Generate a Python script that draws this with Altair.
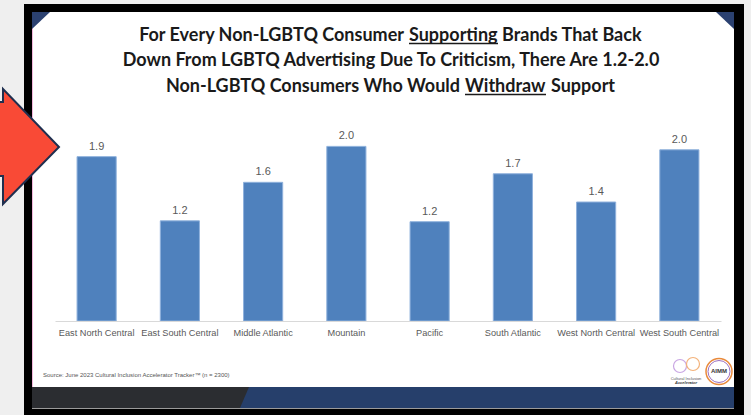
import altair as alt
import pandas as pd

# ---------------- data ----------------
regions = ["East North Central", "East South Central", "Middle Atlantic", "Mountain",
           "Pacific", "South Atlantic", "West North Central", "West South Central"]
values = [1.92, 1.17, 1.62, 2.04, 1.16, 1.72, 1.39, 2.00]

title_line1 = ["For Every Non-LGBTQ Consumer", "Supporting", "Brands That Back"]
title_line2 = "Down From LGBTQ Advertising Due To Criticism, There Are 1.2-2.0"
title_line3 = ["Non-LGBTQ Consumers Who Would", "Withdraw", "Support"]
source_text = "Source: June 2023 Cultural Inclusion Accelerator Tracker\u2122 (n = 2300)"

# ---------------- layout helpers ----------------
PAD_L, PAD_T, PAD_R, PAD_B = 55, 107, 30, 94
W, H = 666, 214


def X(px):
    return px - PAD_L


def Y(py):
    return py - PAD_T


one = alt.Data(values=[{"a": 1}])

TITLE_FONT = "Lato"
LABEL_FONT = "Liberation Sans"
VAL_FONT = "Liberation Sans"


def rect(x1, y1, x2, y2, color):
    return alt.Chart(one).mark_rect(color=color).encode(
        x=alt.value(X(x1)), x2=alt.value(X(x2)), y=alt.value(Y(y1)), y2=alt.value(Y(y2)))


def poly(points, cx, cy, half, fill, stroke="", sw=0):
    path = "M" + "L".join(f"{(x - cx) / half:.4f},{(y - cy) / half:.4f}" for x, y in points) + "Z"
    kw = dict(shape=path, filled=True, fill=fill, size=(2 * half) ** 2, opacity=1)
    if stroke:
        kw.update(stroke=stroke, strokeWidth=sw)
    else:
        kw.update(strokeWidth=0)
    return alt.Chart(one).mark_point(**kw).encode(x=alt.value(X(cx)), y=alt.value(Y(cy)))


def text(s, px, py, size, color, align="center", weight="normal", font=TITLE_FONT,
         baseline="alphabetic", style="normal"):
    return alt.Chart(one).mark_text(text=s, align=align, baseline=baseline, fontSize=size,
                                    font=font, fontWeight=weight, color=color,
                                    fontStyle=style).encode(
        x=alt.value(X(px)), y=alt.value(Y(py)))


def hline(x1, x2, py, color, sw=1.0):
    return alt.Chart(one).mark_rule(color=color, strokeWidth=sw).encode(
        x=alt.value(X(x1)), x2=alt.value(X(x2)), y=alt.value(Y(py)))


def vline(px, y1, y2, color, sw=1.0):
    return alt.Chart(one).mark_rule(color=color, strokeWidth=sw).encode(
        x=alt.value(X(px)), y=alt.value(Y(y1)), y2=alt.value(Y(y2)))


def ring(px, py, d, color, sw=1.5):
    return alt.Chart(one).mark_point(shape="circle", filled=False, stroke=color, strokeWidth=sw,
                                     size=d * d, opacity=1).encode(
        x=alt.value(X(px)), y=alt.value(Y(py)))


# ---------------- slide frame ----------------
frame = rect(24, 4, 744, 415, "#000000")
slide = rect(32, 12, 734, 408, "#ffffff")
pink = vline(32.5, 12, 408, "#f2b6dc", 1)
band_dark = rect(32, 387, 734, 408, "#2b2d31")
band_navy = poly([(249, 387), (734, 387), (734, 408), (240, 408)], 487, 397.5, 247, "#263f6b")
band_line = hline(32, 734, 408.5, "#9a9a9a", 1)
tri_l = poly([(32, 12), (50, 12), (32, 29)], 41, 20.5, 9, "#2b4170")
tri_r = poly([(716, 12), (734, 12), (734, 29)], 725, 20.5, 9, "#2b4170")

# ---------------- bars ----------------
df = pd.DataFrame({"region": regions, "value": values})
base = alt.Chart(df).encode(
    x=alt.X("region:N", sort=regions,
            scale=alt.Scale(paddingInner=0.53, paddingOuter=0.265),
            axis=alt.Axis(title=None, labelAngle=0, ticks=False, labelPadding=7,
                          labelFont=LABEL_FONT, labelFontSize=9.2, labelColor="#595959",
                          labelOverlap=False,
                          domainColor="#d9d9d9", domainWidth=1, zindex=2)),
    y=alt.Y("value:Q", scale=alt.Scale(domain=[0, 2.5]), axis=None),
)
bars = base.mark_bar(color="#4f81bd", stroke="#8fb1dc", strokeWidth=1)
vals = base.mark_text(dy=-5, baseline="bottom", fontSize=11, color="#595959",
                      font=VAL_FONT).encode(text=alt.Text("value:Q", format=".1f"))

# ---------------- title ----------------
TC = "#1a1a1a"
TS = 18
t1a = text(title_line1[0], 404, 41, TS, TC, align="right", weight="bold")
t1b = text(title_line1[1], 409, 41, TS, TC, align="left", weight="bold")
t1c = text(title_line1[2], 502, 41, TS, TC, align="left", weight="bold")
u1 = hline(409, 498, 43.5, TC, 1.5)
t2 = text(title_line2, 391, 66, TS, TC, align="center", weight="bold")
t3a = text(title_line3[0], 460, 92, TS, TC, align="right", weight="bold")
t3b = text(title_line3[1], 465, 92, TS, TC, align="left", weight="bold")
t3c = text(title_line3[2], 551, 92, TS, TC, align="left", weight="bold")
u3 = hline(465, 546, 94.5, TC, 1.5)

# ---------------- source & logos ----------------
src = text(source_text, 43, 377, 6, "#555555", align="left", font="Liberation Sans")
logo1a = ring(680, 366, 13, "#c9a6e3", 1.2)
logo1b = ring(693, 364, 13, "#f3b27a", 1.2)
logo1t1 = text("Cultural Inclusion", 686, 380, 4, "#555555", font="Liberation Sans")
logo1t2 = text("Accelerator", 686, 384, 4, "#333333", font="Liberation Sans", weight="bold",
               style="italic")
logo2a = ring(719, 371.5, 26, "#e98a3b", 1.5)
logo2b = ring(719, 371.5, 22, "#9b6fc0", 1)
logo2t = text("AIMM", 719, 371, 6, "#333333", font="Liberation Sans", weight="bold",
              baseline="middle")

# ---------------- red arrow ----------------
arrow = poly([(-10, 102), (3, 102), (3, 89), (59, 147), (3, 204), (3, 176), (-10, 176)],
             25, 146, 60, "#f94a36", stroke="#1f2f4f", sw=2)

chart = alt.layer(
    frame, slide, pink, band_dark, band_navy, band_line, tri_l, tri_r,
    bars, vals,
    t1a, t1b, t1c, u1, t2, t3a, t3b, t3c, u3,
    src, logo1a, logo1b, logo1t1, logo1t2, logo2a, logo2b, logo2t,
    arrow,
).properties(
    width=W, height=H,
    padding={"left": PAD_L, "top": PAD_T, "right": PAD_R, "bottom": PAD_B},
    autosize=alt.AutoSizeParams(type="none"),
    background="#efefef",
).configure_view(strokeWidth=0)

chart.save("out.html", embed_options={"renderer": "svg", "actions": False})
